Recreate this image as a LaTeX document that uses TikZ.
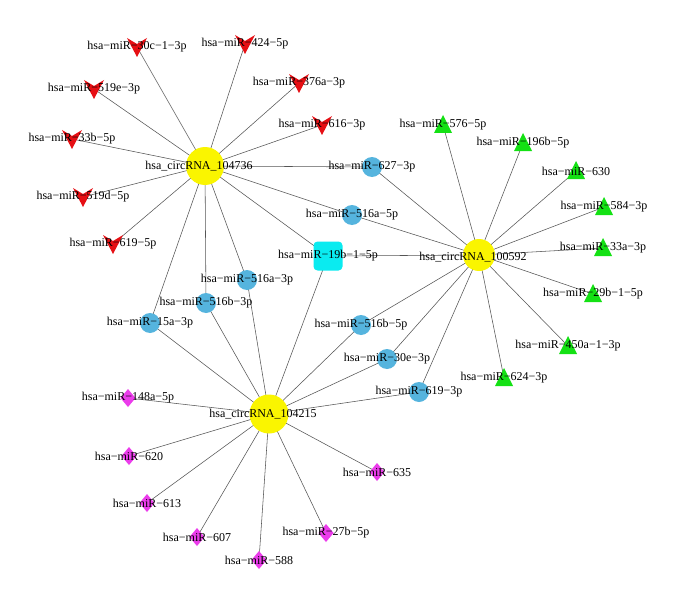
\documentclass[tikz,border=0pt]{standalone}
\usepackage{fontspec}
\setmainfont{Liberation Serif}
\definecolor{hubY}{RGB}{250,245,0}
\definecolor{vred}{RGB}{230,15,20}
\definecolor{tgreen}{RGB}{20,225,20}
\definecolor{dmag}{RGB}{235,60,235}
\definecolor{cblue}{RGB}{85,180,222}
\definecolor{scyan}{RGB}{10,235,240}
\definecolor{edgec}{RGB}{85,85,85}
\tikzset{
  edge/.style={draw=edgec, line width=0.55pt},
  lab/.style={inner sep=0pt, font=\fontsize{12}{14}\selectfont, text=black},
  hubnode/.style={circle, fill=hubY, inner sep=0pt, minimum size=#1},
  bluenode/.style={circle, fill=cblue, inner sep=0pt, minimum size=20pt},
  sqnode/.style={fill=scyan, rounded corners=4pt, inner sep=0pt, minimum size=29pt},
  vshape/.pic={\fill[vred] (-10,-9) -- (0,-3) -- (10,-9) -- (0,10) -- cycle;},
  gtri/.pic={\fill[tgreen] (-9,8) -- (9,8) -- (0,-10) -- cycle;},
  mdia/.pic={\fill[dmag] (0,-9) -- (7.5,0) -- (0,9) -- (-7.5,0) -- cycle;},
}
\begin{document}
\begin{tikzpicture}[x=1pt,y=-1pt]
\useasboundingbox (0,0) rectangle (693,591);
\fill[white] (0,0) rectangle (693,591);
% hubs
\coordinate (A) at (205,166);
\coordinate (B) at (479,255);
\coordinate (C) at (269,414);
% red
\coordinate (r1) at (137,47);
\coordinate (r2) at (245,44);
\coordinate (r3) at (299,83);
\coordinate (r4) at (94,89);
\coordinate (r5) at (322,125);
\coordinate (r6) at (72,139);
\coordinate (r7) at (83,197);
\coordinate (r8) at (113,244);
% green
\coordinate (g1) at (443,125);
\coordinate (g2) at (523,143);
\coordinate (g3) at (576,171);
\coordinate (g4) at (604,207);
\coordinate (g5) at (603,248);
\coordinate (g6) at (593,294);
\coordinate (g7) at (568,346);
\coordinate (g8) at (504,378);
% blue
\coordinate (b1) at (372,167);
\coordinate (b2) at (352,215);
\coordinate (b3) at (361,325);
\coordinate (b4) at (387,359);
\coordinate (b5) at (419,392);
\coordinate (b6) at (247,280);
\coordinate (b7) at (206,303);
\coordinate (b8) at (150,323);
\coordinate (sq) at (328,256);
% magenta
\coordinate (m1) at (128,398);
\coordinate (m2) at (129,456);
\coordinate (m3) at (147,503);
\coordinate (m4) at (197,537);
\coordinate (m5) at (259,560);
\coordinate (m6) at (326,533);
\coordinate (m7) at (377,472);
% edges
\foreach \t in {r1,r2,r3,r4,r5,r6,r7,r8,b1,b2,b6,b7,b8,sq} \draw[edge] (A) -- (\t);
\foreach \t in {g1,g2,g3,g4,g5,g6,g7,g8,b1,b2,b3,b4,b5,sq} \draw[edge] (B) -- (\t);
\foreach \t in {m1,m2,m3,m4,m5,m6,m7,b3,b4,b5,b6,b7,b8,sq} \draw[edge] (C) -- (\t);
% shapes
\foreach \t in {r1,r2,r3,r4,r5,r6,r7,r8} \pic at (\t) {vshape};
\foreach \t in {g1,g2,g3,g4,g5,g6,g7,g8} \pic at (\t) {gtri};
\foreach \t in {m1,m2,m3,m4,m5,m6,m7} \pic at (\t) {mdia};
\foreach \t in {b1,b2,b3,b4,b5,b6,b7,b8} \node[bluenode] (n\t) at (\t) {};
\node[sqnode] (nsq) at (sq) {};
\node[hubnode=38pt] (hA) at (A) {};
\node[hubnode=32pt] (hB) at (B) {};
\node[hubnode=39pt] (hC) at (C) {};
% labels
\node[lab] (LA) at ([xshift=-6pt]A) {hsa\_circRNA\_104736};
\node[lab] (LB) at ([xshift=-6pt,yshift=-2pt]B) {hsa\_circRNA\_100592};
\node[lab] (LC) at ([xshift=-6pt]C) {hsa\_circRNA\_104215};
\node[lab] (Lr1) at (r1) {hsa−miR−30c−1−3p};
\node[lab] (Lr2) at (r2) {hsa−miR−424−5p};
\node[lab] (Lr3) at (r3) {hsa−miR−376a−3p};
\node[lab] (Lr4) at (r4) {hsa−miR−519e−3p};
\node[lab] (Lr5) at (r5) {hsa−miR−616−3p};
\node[lab] (Lr6) at (r6) {hsa−miR−33b−5p};
\node[lab] (Lr7) at (r7) {hsa−miR−519d−5p};
\node[lab] (Lr8) at (r8) {hsa−miR−619−5p};
\node[lab] (Lg1) at (g1) {hsa−miR−576−5p};
\node[lab] (Lg2) at (g2) {hsa−miR−196b−5p};
\node[lab] (Lg3) at (g3) {hsa−miR−630};
\node[lab] (Lg4) at (g4) {hsa−miR−584−3p};
\node[lab] (Lg5) at (g5) {hsa−miR−33a−3p};
\node[lab] (Lg6) at (g6) {hsa−miR−29b−1−5p};
\node[lab] (Lg7) at (g7) {hsa−miR−450a−1−3p};
\node[lab] (Lg8) at (g8) {hsa−miR−624−3p};
\node[lab] (Lb1) at (b1) {hsa−miR−627−3p};
\node[lab] (Lb2) at (b2) {hsa−miR−516a−5p};
\node[lab] (Lb3) at (b3) {hsa−miR−516b−5p};
\node[lab] (Lb4) at (b4) {hsa−miR−30e−3p};
\node[lab] (Lb5) at (b5) {hsa−miR−619−3p};
\node[lab] (Lb6) at (b6) {hsa−miR−516a−3p};
\node[lab] (Lb7) at (b7) {hsa−miR−516b−3p};
\node[lab] (Lb8) at (b8) {hsa−miR−15a−3p};
\node[lab] (Lsq) at (sq) {hsa−miR−19b−1−5p};
\node[lab] (Lm1) at (m1) {hsa−miR−148a−5p};
\node[lab] (Lm2) at (m2) {hsa−miR−620};
\node[lab] (Lm3) at (m3) {hsa−miR−613};
\node[lab] (Lm4) at (m4) {hsa−miR−607};
\node[lab] (Lm5) at (m5) {hsa−miR−588};
\node[lab] (Lm6) at (m6) {hsa−miR−27b−5p};
\node[lab] (Lm7) at (m7) {hsa−miR−635};
\end{tikzpicture}
\end{document}
